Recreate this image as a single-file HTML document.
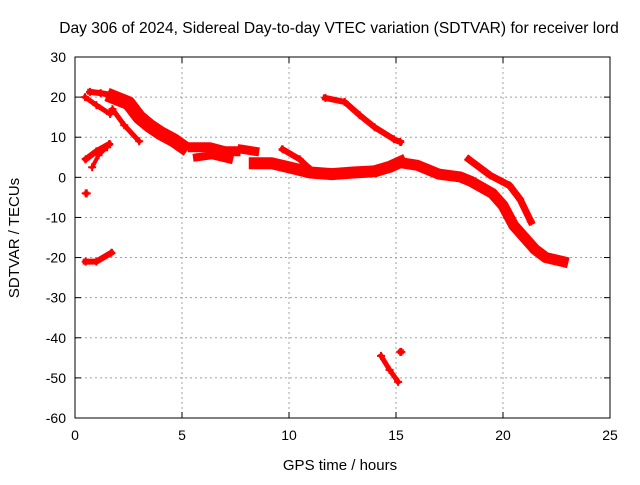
<!DOCTYPE html>
<html><head><meta charset="utf-8"><style>
body{margin:0;background:#fff;}
svg text{font-family:"Liberation Sans",sans-serif;font-size:14px;fill:#000;}
</style></head><body>
<svg id="chart" width="640" height="480">
<text x="339" y="33" text-anchor="middle" style="font-size:15.6px">Day 306 of 2024, Sidereal Day-to-day VTEC variation (SDTVAR) for receiver lord</text>
<text x="340" y="470" text-anchor="middle" style="font-size:15px">GPS time / hours</text>
<text x="0" y="0" transform="translate(19,238) rotate(-90)" text-anchor="middle" style="font-size:15px">SDTVAR / TECUs</text>
<g id="grid"></g><g id="marks"></g><g id="axes"></g>
</svg>
<script>
const xTicks=[0,5,10,15,20,25];
const yTicks=[30,20,10,0,-10,-20,-30,-40,-50,-60];
const trackA=[[0.47,20],[1.0,18],[1.64,15.8]];
const trackB=[[0.7,21.3],[1.2,21],[1.6,20.6]];
const trackC=[[1.8,20],[2.5,18.5],[3,15],[3.5,12.8],[4,11],[4.6,9.3],[5,7.8]];
const trackD=[[1.75,17],[2.3,13],[3.0,9]];
const trackE=[[0.5,4.5],[1.0,6.5],[1.6,8.3]];
const trackE2=[[0.8,2.5],[1.1,5.5],[1.5,7.5]];
const trackF=[[0.5,-4],[0.55,-4]];
const trackG=[[0.5,-21],[1.0,-21],[1.7,-18.8]];
const trackH=[[5.5,7.5],[6.3,7.5],[7.0,6.5],[7.5,6.5]];
const trackH2=[[5.7,5],[6.4,5.5],[7.2,4.5]];
const trackI=[[7.8,7],[8.4,6.5]];
const trackJ=[[8.4,3.5],[9.2,3.5],[10,2.5],[11,1.2],[12,0.8],[13,1.2],[14,1.5],[14.7,2.6],[15.2,3.8]];
const trackJ2=[[9.7,7],[10.5,4.5],[11,2]];
const trackK=[[11.7,19.8],[12.6,18.8],[13.3,15.5],[14,12.5],[14.9,9.5],[15.2,8.8]];
const trackL=[[15.4,3.5],[16,3],[17,0.8],[18,0.1],[18.5,-1],[19.5,-4],[20,-7],[20.5,-12],[21,-15],[21.5,-18],[22,-20],[22.8,-21]];
const trackM=[[18.4,4.5],[19.4,0.5],[20.3,-2],[20.8,-5.5],[21.3,-11]];
const trackN=[[14.3,-44.5],[14.7,-48],[15.1,-51]];
const trackP=[[15.2,-43.5],[15.25,-43.5]];
const tracks=[[trackA,5],[trackB,6],[trackC,14],[trackD,5],[trackE,6],[trackE2,4],[trackF,4],[trackG,6],[trackH,10],[trackH2,8],[trackI,9],[trackJ,12],[trackJ2,6],[trackK,6],[trackL,11],[trackM,7],[trackN,5],[trackP,5]];
const X0=75,X1=610,Y0=57,Y1=418;
function sx(h){return X0+(h-0)/25*(X1-X0);}
function sy(v){return Y0+(30-v)/90*(Y1-Y0);}
const NS="http://www.w3.org/2000/svg";
const grid=document.getElementById('grid'),axes=document.getElementById('axes'),marks=document.getElementById('marks');
function mk(tag,attrs,parent){const e=document.createElementNS(NS,tag);for(const k in attrs)e.setAttribute(k,attrs[k]);parent.appendChild(e);return e;}
xTicks.forEach(t=>{
 const x=sx(t);
 if(t>0&&t<25){const g=mk('line',{x1:x,x2:x,y1:Y0,y2:Y1,stroke:'#a0a0a0','stroke-dasharray':'2,3'},grid);
 
 }
 mk('line',{x1:x,x2:x,y1:Y1,y2:Y1-6,stroke:'#000'},axes);
 mk('line',{x1:x,x2:x,y1:Y0,y2:Y0+6,stroke:'#000'},axes);
 const l=mk('text',{x:x,y:Y1+22,'text-anchor':'middle'},axes);l.textContent=t;
 
 
});
yTicks.forEach(t=>{
 const y=sy(t);
 if(t<30&&t>-60){const g=mk('line',{x1:X0,x2:X1,y1:y,y2:y,stroke:'#a0a0a0','stroke-dasharray':'2,3'},grid);
 
 }
 mk('line',{x1:X0,x2:X0+6,y1:y,y2:y,stroke:'#000'},axes);
 mk('line',{x1:X1,x2:X1-6,y1:y,y2:y,stroke:'#000'},axes);
 const l=mk('text',{x:X0-9,y:y+5,'text-anchor':'end'},axes);l.textContent=t;
 
 
});
const fr=mk('rect',{x:X0,y:Y0,width:X1-X0,height:Y1-Y0,fill:'none',stroke:'#000'},axes);


tracks.forEach(([pts,w])=>{
 const p=mk('polyline',{points:pts.map(q=>sx(q[0])+','+sy(q[1])).join(' '),fill:'none',stroke:'#ff0000','stroke-width':w,'stroke-linecap':'square','stroke-linejoin':'round'},marks);
 
 
 pts.forEach(q=>{
  const c=mk('path',{d:`M${sx(q[0])-4},${sy(q[1])}h8M${sx(q[0])},${sy(q[1])-4}v8`,stroke:'#ff0000','stroke-width':2},marks);
  
  
 });
});
</script>
</body></html>
